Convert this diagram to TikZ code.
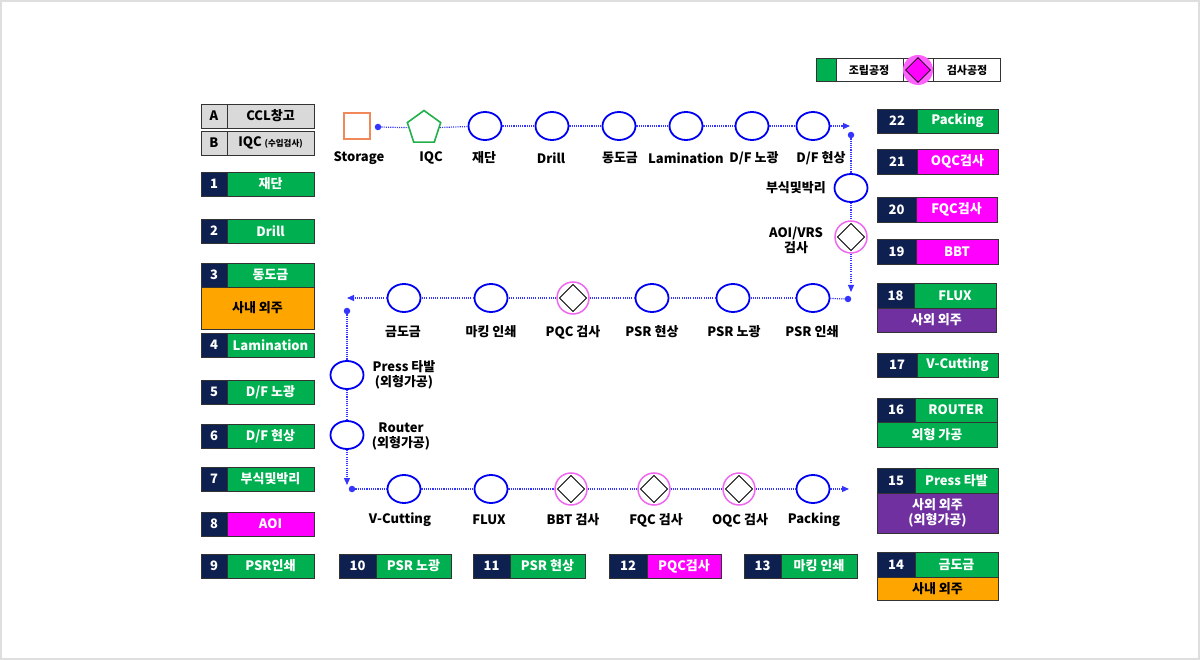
\documentclass[tikz,border=0pt]{standalone}
\usepackage{fontspec}
\setmainfont{Noto Sans CJK KR}
\usetikzlibrary{arrows.meta,shapes.geometric}
\definecolor{navy}{HTML}{0E2050}
\definecolor{pgreen}{HTML}{00B050}
\definecolor{pmag}{HTML}{FF00FF}
\definecolor{porange}{HTML}{FFA500}
\definecolor{ppurple}{HTML}{7030A0}
\definecolor{pgray}{HTML}{D9D9D9}
\definecolor{flowblue}{HTML}{3434FF}
\definecolor{circblue}{HTML}{0000F0}
\definecolor{pinkring}{HTML}{F068F0}
\definecolor{stor}{HTML}{F0885A}
\definecolor{pent}{HTML}{22B04A}
\tikzset{
  cell/.style={draw=black!80, line width=0.8pt, inner sep=0pt, text=white,
    font=\bfseries\fontsize{13}{15}\selectfont},
  proc/.style={ellipse, draw=circblue, line width=1.8pt, minimum width=33pt,
    minimum height=28pt, inner sep=0pt, fill=white},
  insp/.style={circle, draw=pinkring, line width=1.5pt, minimum size=32pt,
    inner sep=0pt, fill=white,
    path picture={\draw[black, line width=0.9pt]
      ([yshift=-2.5pt]path picture bounding box.north) --
      ([xshift=-2.5pt]path picture bounding box.east) --
      ([yshift=2.5pt]path picture bounding box.south) --
      ([xshift=2.5pt]path picture bounding box.west) -- cycle;}},
  lab/.style={inner sep=0pt, text=black, font=\bfseries\fontsize{13}{15}\selectfont},
  flow/.style={draw=flowblue, line width=1.2pt, dash pattern=on 1.1pt off 1.1pt},
  flowarr/.style={flow, -{Triangle[length=7pt,width=6pt]}},
  fdot/.style={circle, fill=flowblue, minimum size=6.5pt, inner sep=0pt}
}
\newcommand\procbox[9]{%
  \pgfmathsetmacro\pbwa{#3-#2}%
  \pgfmathsetmacro\pbwb{#4-#3}%
  \pgfmathsetmacro\pbh{#6-#5}%
  \pgfmathsetmacro\pbxa{(#2+#3)/2}%
  \pgfmathsetmacro\pbxb{(#3+#4)/2}%
  \pgfmathsetmacro\pby{(#5+#6)/2}%
  \node[cell, fill=navy, minimum width=\pbwa pt, minimum height=\pbh pt] (#1n) at (\pbxa,\pby) {#7};%
  \node[cell, fill=#9, minimum width=\pbwb pt, minimum height=\pbh pt] (#1l) at (\pbxb,\pby) {#8};%
}
\newcommand\subcell[8]{%
  \pgfmathsetmacro\pbw{#3-#2}%
  \pgfmathsetmacro\pbh{#5-#4}%
  \pgfmathsetmacro\pbx{(#2+#3)/2}%
  \pgfmathsetmacro\pby{(#4+#5)/2}%
  \node[cell, fill=#7, text=#8, align=center, minimum width=\pbw pt, minimum height=\pbh pt] (#1) at (\pbx,\pby) {#6};%
}
\begin{document}
\begin{tikzpicture}[x=1pt,y=-1pt]
\useasboundingbox (0,0) rectangle (1200,660);
\draw[draw=black!13, line width=2pt, fill=white] (1,1) rectangle (1199,659);

% ---------- legend ----------
\node[draw=black!80, line width=0.8pt, minimum width=184pt, minimum height=23pt, inner sep=0pt] (leg) at (908.5,70) {};
\node[draw=black!80, line width=0.8pt, fill=pgreen, minimum width=20pt, minimum height=23pt, inner sep=0pt] (legg) at (826,70) {};
\node[lab, font=\bfseries\fontsize{11}{13}\selectfont] (legt1) at (869,70) {조립공정};
\draw[black!80, line width=0.8pt] (903,58.5) -- (903,81.5);
\draw[black!80, line width=0.8pt] (933,58.5) -- (933,81.5);
\node[circle, fill=pmag!62, minimum size=30pt, inner sep=0pt] (legc) at (918,70) {};
\node[diamond, draw=black, line width=0.8pt, fill=pmag, minimum width=25pt, minimum height=25pt, inner sep=0pt] (legd) at (918,70) {};
\node[lab, font=\bfseries\fontsize{11}{13}\selectfont] (legt2) at (967,70) {검사공정};

% ---------- left column ----------
\node[cell, fill=pgray, text=black, minimum width=26pt, minimum height=24pt] (An) at (214,116) {A};
\node[cell, fill=pgray, text=black, minimum width=87pt, minimum height=24pt] (Al) at (270.5,116) {CCL창고};
\node[cell, fill=pgray, text=black, minimum width=26pt, minimum height=24pt] (Bn) at (214,143) {B};
\node[cell, fill=pgray, text=black, minimum width=87pt, minimum height=24pt] (Bl) at (270.5,143) {IQC {\fontsize{8.5}{10}\selectfont(수입검사)}};
\procbox{b1}{201}{227}{314}{172}{196}{1}{재단}{pgreen}
\procbox{b2}{201}{227}{314}{219}{243}{2}{Drill}{pgreen}
\procbox{b3}{201}{227}{314}{263}{287}{3}{동도금}{pgreen}
\subcell{b3s}{201}{314}{287}{329}{사내 외주}{porange}{black}
\procbox{b4}{201}{227}{314}{333}{357}{4}{Lamination}{pgreen}
\procbox{b5}{201}{227}{314}{380}{404}{5}{D/F 노광}{pgreen}
\procbox{b6}{201}{227}{314}{424}{448}{6}{D/F 현상}{pgreen}
\procbox{b7}{201}{227}{314}{467}{491}{7}{부식및박리}{pgreen}
\procbox{b8}{201}{227}{314}{512}{536}{8}{AOI}{pmag}
\procbox{b9}{201}{227}{314}{554}{578}{9}{PSR인쇄}{pgreen}

% ---------- bottom row ----------
\procbox{b10}{339}{376}{451}{554}{578}{10}{PSR 노광}{pgreen}
\procbox{b11}{473}{510}{585}{554}{578}{11}{PSR 현상}{pgreen}
\procbox{b12}{609}{647}{721}{554}{578}{12}{PQC검사}{pmag}
\procbox{b13}{744}{781}{857}{554}{578}{13}{마킹 인쇄}{pgreen}

% ---------- right column ----------
\procbox{b22}{877}{917}{998}{109}{133}{22}{Packing}{pgreen}
\procbox{b21}{877}{917}{998}{149}{174}{21}{OQC검사}{pmag}
\procbox{b20}{877}{916}{997}{197}{222}{20}{FQC검사}{pmag}
\procbox{b19}{877}{916}{998}{239}{264}{19}{BBT}{pmag}
\procbox{b18}{877}{914}{996}{283}{308}{18}{FLUX}{pgreen}
\subcell{b18s}{877}{996}{308}{332}{사외 외주}{ppurple}{white}
\procbox{b17}{877}{917}{998}{353}{377}{17}{V-Cutting}{pgreen}
\procbox{b16}{877}{915}{997}{398}{422}{16}{ROUTER}{pgreen}
\subcell{b16s}{877}{997}{422}{447}{외형 가공}{pgreen}{white}
\procbox{b15}{877}{915}{998}{468}{493}{15}{Press 타발}{pgreen}
\subcell{b15s}{877}{998}{493}{533}{사외 외주\\(외형가공)}{ppurple}{white}
\procbox{b14}{877}{915}{998}{552}{577}{14}{금도금}{pgreen}
\subcell{b14s}{877}{998}{577}{600}{사내 외주}{porange}{black}

% ---------- flow row 1 ----------
\node[draw=stor, line width=1.6pt, minimum size=26.5pt, inner sep=0pt] (stor) at (357,126) {};
\node[fdot] (d0) at (378,127) {};
\node[regular polygon, regular polygon sides=5, draw=pent, line width=1.6pt, minimum size=35pt, inner sep=0pt, fill=white] (iqc) at (424,128) {};
\node[proc] (r1a) at (485,126) {};
\node[proc] (r1b) at (552,126) {};
\node[proc] (r1c) at (619,126) {};
\node[proc] (r1d) at (686,126) {};
\node[proc] (r1e) at (752,126) {};
\node[proc] (r1f) at (813,126) {};
\coordinate (e1) at (850,126);
\node[fdot] (d1) at (851,135) {};
\node[proc] (r1g) at (851,188) {};
\node[insp] (aoi) at (851,237) {};
\coordinate (e2) at (851,292);

\node[lab] (t0) at (359,158) {Storage};
\node[lab] (t1) at (431,158) {IQC};
\node[lab] (t2) at (484,158) {재단};
\node[lab] (t3) at (551,158) {Drill};
\node[lab] (t4) at (620,158) {동도금};
\node[lab] (t5) at (686,158) {Lamination};
\node[lab] (t6) at (754,158) {D/F 노광};
\node[lab] (t7) at (821,158) {D/F 현상};
\node[lab, anchor=east] (t8) at (826,188) {부식및박리};
\node[lab, align=center, font=\bfseries\fontsize{13}{15}\selectfont] (t9) at (796,240) {AOI/VRS\\검사};

% ---------- flow row 2 ----------
\node[fdot] (d2) at (848,299) {};
\node[proc] (r2a) at (813,298) {};
\node[proc] (r2b) at (733,298) {};
\node[proc] (r2c) at (652,298) {};
\node[insp] (pqc) at (573,298) {};
\node[proc] (r2e) at (491,298) {};
\node[proc] (r2f) at (404,298) {};
\coordinate (e3) at (347,298);
\node[fdot] (d3) at (347,311) {};
\node[proc] (press) at (347,375) {};
\node[proc] (router) at (347,435) {};
\coordinate (e4) at (347,485);

\node[lab] (u1) at (403,332) {금도금};
\node[lab] (u2) at (491,332) {마킹 인쇄};
\node[lab] (u3) at (573,332) {PQC 검사};
\node[lab] (u4) at (652,332) {PSR 현상};
\node[lab] (u5) at (734,332) {PSR 노광};
\node[lab] (u6) at (812,332) {PSR 인쇄};
\node[lab, align=center] (u7) at (404,375) {Press 타발\\(외형가공)};
\node[lab, align=center] (u8) at (401,436) {Router\\(외형가공)};

% ---------- flow row 3 ----------
\node[fdot] (d4) at (352,489) {};
\node[proc] (r3a) at (404,489) {};
\node[proc] (r3b) at (491,489) {};
\node[insp] (bbt) at (571,489) {};
\node[insp] (fqc) at (654,489) {};
\node[insp] (oqc) at (739,489) {};
\node[proc] (r3f) at (813,489) {};
\coordinate (e5) at (849,489);

\node[lab] (w1) at (400,520) {V-Cutting};
\node[lab] (w2) at (489,520) {FLUX};
\node[lab] (w3) at (573,520) {BBT 검사};
\node[lab] (w4) at (656,520) {FQC 검사};
\node[lab] (w5) at (740,520) {OQC 검사};
\node[lab] (w6) at (814,520) {Packing};

% ---------- connectors ----------
\begin{scope}[on background layer/.style={}]
\foreach \a/\b in {d0/iqc, iqc/r1a, r1a/r1b, r1b/r1c, r1c/r1d, r1d/r1e, r1e/r1f,
  d1/r1g, r1g/aoi,
  d2/r2a, r2a/r2b, r2b/r2c, r2c/pqc, pqc/r2e, r2e/r2f,
  d3/press, press/router,
  d4/r3a, r3a/r3b, r3b/bbt, bbt/fqc, fqc/oqc, oqc/r3f}
  \draw[flow] (\a) -- (\b);
\end{scope}
\draw[flowarr] (r1f) -- (e1);
\draw[flowarr] (aoi) -- (e2);
\draw[flowarr] (r2f) -- (e3);
\draw[flowarr] (router) -- (e4);
\draw[flowarr] (r3f) -- (e5);
\end{tikzpicture}
\end{document}
